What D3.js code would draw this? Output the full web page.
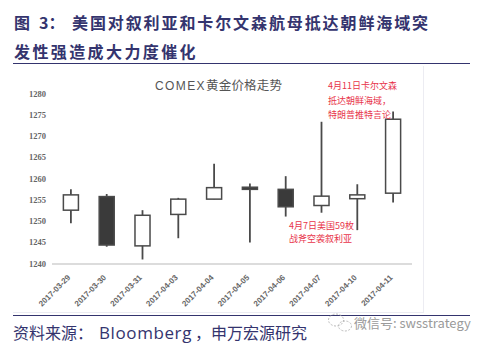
<!DOCTYPE html>
<html>
<head>
<meta charset="utf-8">
<script src="https://cdn.jsdelivr.net/npm/d3@7"></script>
<style>
  html, body { margin: 0; padding: 0; background: #fff; }
  svg { display: block; }
</style>
</head>
<body>
<svg id="chart" width="482" height="346"></svg>
<script>
// COMEX gold daily OHLC, late March to mid April 2017
const dates = ["2017-03-29","2017-03-30","2017-03-31","2017-04-03","2017-04-04",
               "2017-04-05","2017-04-06","2017-04-07","2017-04-10","2017-04-11"];
const openVals  = [1252.5, 1255.7, 1244.1, 1251.5, 1255.1, 1257.9, 1257.4, 1253.6, 1255.2, 1256.5];
const highVals  = [1257.4, 1256.3, 1252.5, 1255.4, 1263.4, 1258.8, 1260.5, 1273.3, 1258.6, 1275.7];
const lowVals   = [1249.4, 1243.9, 1240.9, 1245.9, 1255.1, 1244.9, 1251.0, 1251.9, 1247.8, 1254.3];
const closeVals = [1256.1, 1244.3, 1251.3, 1255.1, 1257.8, 1257.4, 1253.3, 1255.8, 1256.1, 1273.9];
const yTicks = [1240, 1245, 1250, 1255, 1260, 1265, 1270, 1275, 1280];

const titleLine1 = "美国对叙利亚和卡尔文森航母抵达朝鲜海域突";
const titleLine2 = "发性强造成大力度催化";
const chartTitle = ["COMEX", "黄金价格走势"];
const noteApr11 = ["4月11日卡尔文森", "抵达朝鲜海域，", "特朗普推特言论"];
const noteApr7  = ["4月7日美国59枚", "战斧空袭叙利亚"];

const candles = dates.map((d, i) => ({
  date: d, open: openVals[i], high: highVals[i], low: lowVals[i], close: closeVals[i]
}));

const svg = d3.select("#chart");
const navy = "#34346e";
const cjk = "'Noto Sans CJK SC', 'Noto Sans', sans-serif";

// Figure heading
const head = svg.append("g").attr("font-family", cjk).attr("font-weight", 700)
  .attr("fill", navy).attr("font-size", 16);
head.append("text").attr("x", 14).attr("y", 29).text("图");
head.append("text").attr("x", 39).attr("y", 29).text("3：");
head.append("text").attr("x", 72).attr("y", 29).attr("letter-spacing", 1.9).text(titleLine1);
head.append("text").attr("x", 14).attr("y", 58).attr("letter-spacing", 2.4).text(titleLine2);
svg.append("line").attr("x1", 13).attr("x2", 470).attr("y1", 63.5).attr("y2", 63.5)
  .attr("stroke", navy).attr("stroke-width", 1);

// Frame of the embedded chart
svg.append("line").attr("x1", 423.5).attr("x2", 423.5).attr("y1", 66).attr("y2", 313)
  .attr("stroke", "#ececf2").attr("stroke-width", 1);
svg.append("line").attr("x1", 13).attr("x2", 424).attr("y1", 312.5).attr("y2", 312.5)
  .attr("stroke", "#ececf2").attr("stroke-width", 1);

// Scales
const x = d3.scaleBand().domain(dates).range([53, 411]).padding(0);
const y = d3.scaleLinear().domain([1240, 1280]).range([263.3, 93.3]);
const bodyW = x.bandwidth() * 0.42;

// Chart title
const ct = svg.append("text").attr("x", 155).attr("y", 89.5).attr("fill", "#555")
  .attr("font-family", cjk).attr("font-size", 12.5);
ct.append("tspan").attr("font-family", "'Liberation Sans', Arial, sans-serif")
  .attr("letter-spacing", 1.4).attr("font-size", 12).text(chartTitle[0]);
ct.append("tspan").attr("letter-spacing", 0.2).text(chartTitle[1]);

// Y axis labels
const yAxis = d3.axisLeft(y).tickValues(yTicks).tickSize(0).tickPadding(0)
  .tickFormat(d3.format("d"));
const yg = svg.append("g").attr("transform", "translate(46,0)").call(yAxis);
yg.select(".domain").remove();
yg.selectAll("text").attr("font-family", "'Liberation Serif', serif")
  .attr("font-weight", 700).attr("font-size", 8.5).attr("fill", "#666");

// Baseline
svg.append("line").attr("x1", 52).attr("x2", 412).attr("y1", y(1240) + 0.7).attr("y2", y(1240) + 0.7)
  .attr("stroke", "#dcdcdc").attr("stroke-width", 2);

// X axis labels, rotated
const xAxis = d3.axisBottom(x).tickSize(0).tickPadding(0);
const xg = svg.append("g").attr("transform", "translate(0,264)").call(xAxis);
xg.select(".domain").remove();
xg.selectAll("text")
  .attr("font-family", "'Liberation Sans', Arial, sans-serif")
  .attr("font-weight", 700).attr("font-size", 8).attr("fill", "#666")
  .attr("text-anchor", "end").attr("dy", "0.35em")
  .attr("transform", "translate(-2,12) rotate(-45)");

// Candles
const cg = svg.append("g");
const c = cg.selectAll("g.candle").data(candles).join("g").attr("class", "candle")
  .attr("transform", d => `translate(${x(d.date) + x.bandwidth() / 2},0)`);
c.append("line")
  .attr("x1", 0).attr("x2", 0)
  .attr("y1", d => y(d.high)).attr("y2", d => y(d.low))
  .attr("stroke", "#4a4a4a").attr("stroke-width", 1.8);
c.append("rect")
  .attr("x", -bodyW / 2).attr("width", bodyW)
  .attr("y", d => y(Math.max(d.open, d.close)))
  .attr("height", d => Math.max(1.5, Math.abs(y(d.open) - y(d.close))))
  .attr("fill", d => d.close >= d.open ? "#fff" : "#3a3a3a")
  .attr("stroke", "#4a4a4a").attr("stroke-width", 1.5);

// Event notes
const red = "#e8344a";
const n1 = svg.append("g").attr("font-family", cjk).attr("font-size", 9).attr("fill", red);
noteApr11.forEach((t, i) => n1.append("text").attr("x", 328).attr("y", 89 + i * 14.5).text(t));
const n2 = svg.append("g").attr("font-family", cjk).attr("font-size", 9).attr("fill", red);
noteApr7.forEach((t, i) => n2.append("text").attr("x", 289).attr("y", 229 + i * 12.5).text(t));

// Footer
svg.append("line").attr("x1", 13).attr("x2", 470).attr("y1", 315.5).attr("y2", 315.5)
  .attr("stroke", navy).attr("stroke-width", 1);
const ft = svg.append("g").attr("fill", navy).attr("font-size", 16).attr("font-family", cjk);
ft.append("text").attr("x", 13).attr("y", 339).text("资料来源：");
ft.append("text").attr("x", 99).attr("y", 339).attr("font-family", "'Open Sans', sans-serif")
  .attr("font-size", 17).attr("letter-spacing", 0.6).text("Bloomberg");
ft.append("text").attr("x", 195).attr("y", 339).text("，申万宏源研究");

// WeChat mark
const wm = svg.append("g").attr("fill", "none").attr("stroke", "#bbb").attr("stroke-width", 1)
  .attr("stroke-dasharray", "2,1.5");
wm.append("ellipse").attr("cx", 336).attr("cy", 320).attr("rx", 7.5).attr("ry", 6);
wm.append("ellipse").attr("cx", 345).attr("cy", 326).attr("rx", 6.5).attr("ry", 5);
svg.append("text").attr("x", 354).attr("y", 328).attr("fill", "#9a9a9a")
  .attr("font-family", cjk).attr("font-size", 13).text("微信号: swsstrategy");
</script>
</body>
</html>
